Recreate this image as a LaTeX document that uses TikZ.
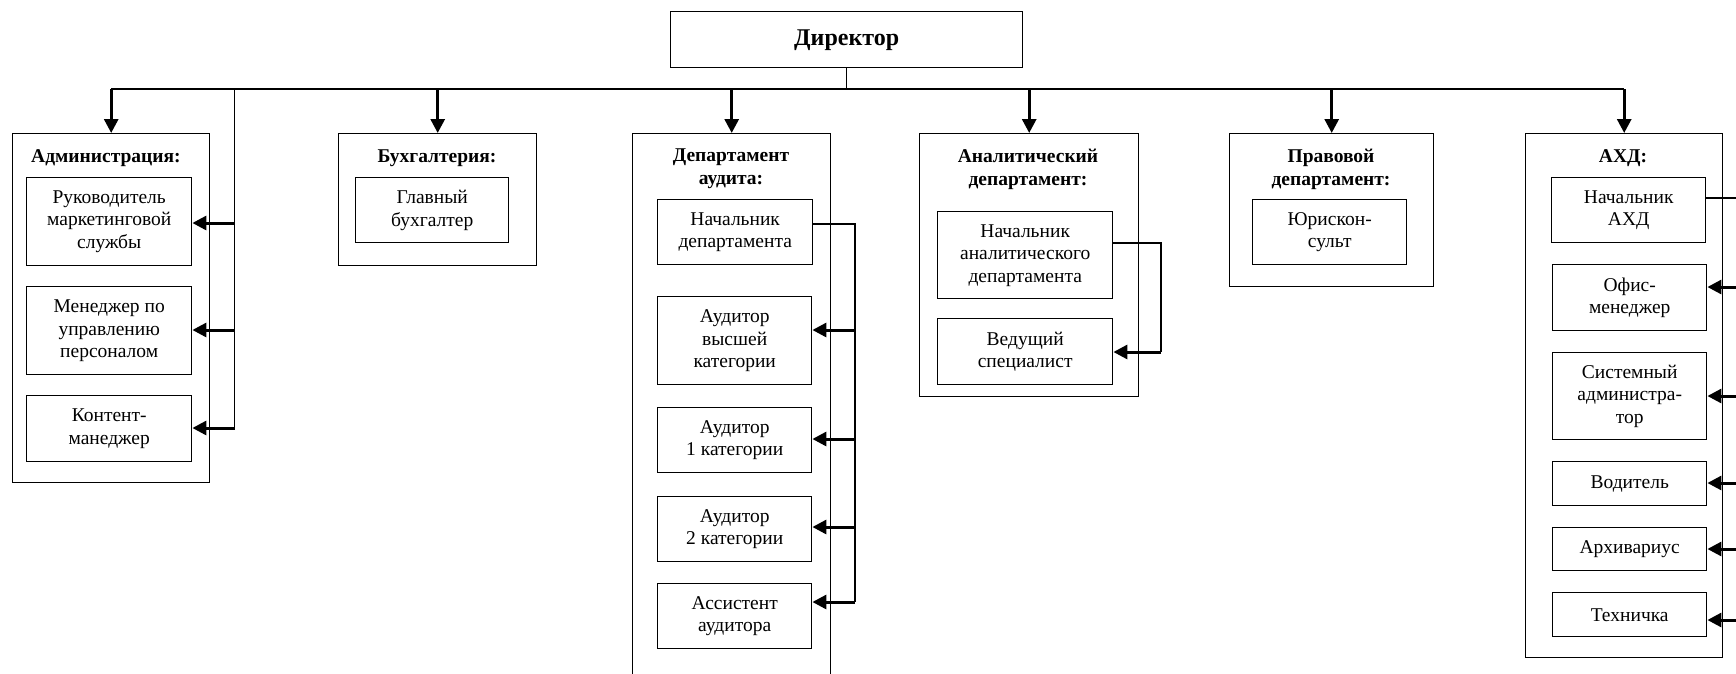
\documentclass[tikz,border=0pt]{standalone}
\usepackage{fontspec}
\setmainfont{Liberation Serif}
\usetikzlibrary{arrows.meta,calc}
\begin{document}
\begin{tikzpicture}[x=1pt,y=-1pt,
  box/.style={draw, line width=1.4pt, inner sep=0pt, anchor=north west, align=center,
    font=\fontsize{19.5}{22.5}\selectfont},
  outer/.style={draw, line width=1.4pt, inner sep=0pt, anchor=north west},
  ttl/.style={inner sep=0pt, align=center, font=\bfseries\fontsize{19.5}{23}\selectfont},
  conn/.style={line width=1.5pt},
  arr/.style={line width=3pt, -{Triangle[length=14pt,width=14pt]}}]
\useasboundingbox (0,0) rectangle (1736,673);

% Director
\node[box, minimum width=352pt, minimum height=56pt, font=\bfseries\fontsize{24}{28}\selectfont] (dir) at (670,11) {Директор};

% Outer department boxes
\node[outer, minimum width=197pt, minimum height=349pt] (adm) at (12,133) {};
\node[outer, minimum width=198pt, minimum height=132pt] (buh) at (338,133) {};
\node[outer, minimum width=198pt, minimum height=570pt] (aud) at (632,133) {};
\node[outer, minimum width=219pt, minimum height=263pt] (an) at (919,133) {};
\node[outer, minimum width=204pt, minimum height=153pt] (pr) at (1229,133) {};
\node[outer, minimum width=197pt, minimum height=524pt] (axd) at (1525,133) {};

% Titles
\node[ttl, anchor=base] (admt) at (106,162) {Администрация:};
\node[ttl, anchor=base] (buht) at (437,162) {Бухгалтерия:};
\node[ttl, anchor=north] (audt) at (731,149) {Департамент\\аудита:};
\node[ttl, anchor=north] (ant) at (1028,149) {Аналитический\\департамент:};
\node[ttl, anchor=north] (prt) at (1331,149) {Правовой\\департамент:};
\node[ttl, anchor=base] (axdt) at (1623,162) {АХД:};

% Administration
\node[box, minimum width=165pt, minimum height=88pt] (r1) at (26,177) {Руководитель\\маркетинговой\\службы};
\node[box, minimum width=165pt, minimum height=88pt] (r2) at (26,286) {Менеджер по\\управлению\\персоналом};
\node[box, minimum width=165pt, minimum height=66pt] (r3) at (26,395) {Контент-\\манеджер};

% Accounting
\node[box, minimum width=153pt, minimum height=65pt] (b1) at (355,177) {Главный\\бухгалтер};

% Audit
\node[box, minimum width=155pt, minimum height=65pt] (a0) at (657,199) {Начальник\\департамента};
\node[box, minimum width=154pt, minimum height=88pt] (a1) at (657,296) {Аудитор\\высшей\\категории};
\node[box, minimum width=154pt, minimum height=65pt] (a2) at (657,407) {Аудитор\\1 категории};
\node[box, minimum width=154pt, minimum height=65pt] (a3) at (657,496) {Аудитор\\2 категории};
\node[box, minimum width=154pt, minimum height=65pt] (a4) at (657,583) {Ассистент\\аудитора};

% Analytics
\node[box, minimum width=175pt, minimum height=87pt] (n1) at (937,211) {Начальник\\аналитического\\департамента};
\node[box, minimum width=175pt, minimum height=66pt] (n2) at (937,318) {Ведущий\\специалист};

% Legal
\node[box, minimum width=154pt, minimum height=65pt] (p1) at (1252,199) {Юрискон-\\сульт};

% AHD
\node[box, minimum width=154pt, minimum height=65pt] (x1) at (1551,177) {Начальник\\АХД};
\node[box, minimum width=154pt, minimum height=66pt] (x2) at (1552,264) {Офис-\\менеджер};
\node[box, minimum width=154pt, minimum height=87pt] (x3) at (1552,352) {Системный\\администра-\\тор};
\node[box, minimum width=154pt, minimum height=44pt] (x4) at (1552,461) {Водитель};
\node[box, minimum width=154pt, minimum height=43pt] (x5) at (1552,527) {Архивариус};
\node[box, minimum width=154pt, minimum height=44pt] (x6) at (1552,592) {Техничка};

% Bus
\coordinate (bus) at (0,89);
\draw[conn] (adm.north |- bus) -- (axd.north |- bus);
\draw[conn] (dir.south) -- (dir.south |- bus);
\foreach \d in {adm,buh,aud,an,pr,axd}
  \draw[arr] (\d.north |- bus) -- (\d.north);

% Administration connectors
\coordinate (admv) at (234.6,89);
\coordinate (ad1) at (234.6,223);
\coordinate (ad2) at (234.6,330);
\coordinate (ad3) at (234.6,428);
\draw[conn] (admv) -- (ad3);
\draw[arr] (ad1) -- (ad1 -| r1.east);
\draw[arr] (ad2) -- (ad2 -| r2.east);
\draw[arr] (ad3) -- (ad3 -| r3.east);

% Audit connectors
\coordinate (audv) at (855,224);
\coordinate (au1) at (855,330);
\coordinate (au2) at (855,439);
\coordinate (au3) at (855,527);
\coordinate (au4) at (855,602);
\draw[conn] (a0.east |- audv) -- (audv) -- (au4);
\draw[arr] (au1) -- (au1 -| a1.east);
\draw[arr] (au2) -- (au2 -| a2.east);
\draw[arr] (au3) -- (au3 -| a3.east);
\draw[arr] (au4) -- (au4 -| a4.east);

% Analytics connectors
\coordinate (anv) at (1161,243);
\coordinate (an2) at (1161,352);
\draw[conn] (n1.east |- anv) -- (anv) -- (an2);
\draw[arr] (an2) -- (an2 -| n2.east);

% AHD connectors
\coordinate (axv) at (1750,198);
\coordinate (ax2) at (1750,287);
\coordinate (ax3) at (1750,396);
\coordinate (ax4) at (1750,483);
\coordinate (ax5) at (1750,549);
\coordinate (ax6) at (1750,620);
\draw[conn] (x1.east |- axv) -- (axv) -- (ax6);
\draw[arr] (ax2) -- (ax2 -| x2.east);
\draw[arr] (ax3) -- (ax3 -| x3.east);
\draw[arr] (ax4) -- (ax4 -| x4.east);
\draw[arr] (ax5) -- (ax5 -| x5.east);
\draw[arr] (ax6) -- (ax6 -| x6.east);
\end{tikzpicture}
\end{document}
